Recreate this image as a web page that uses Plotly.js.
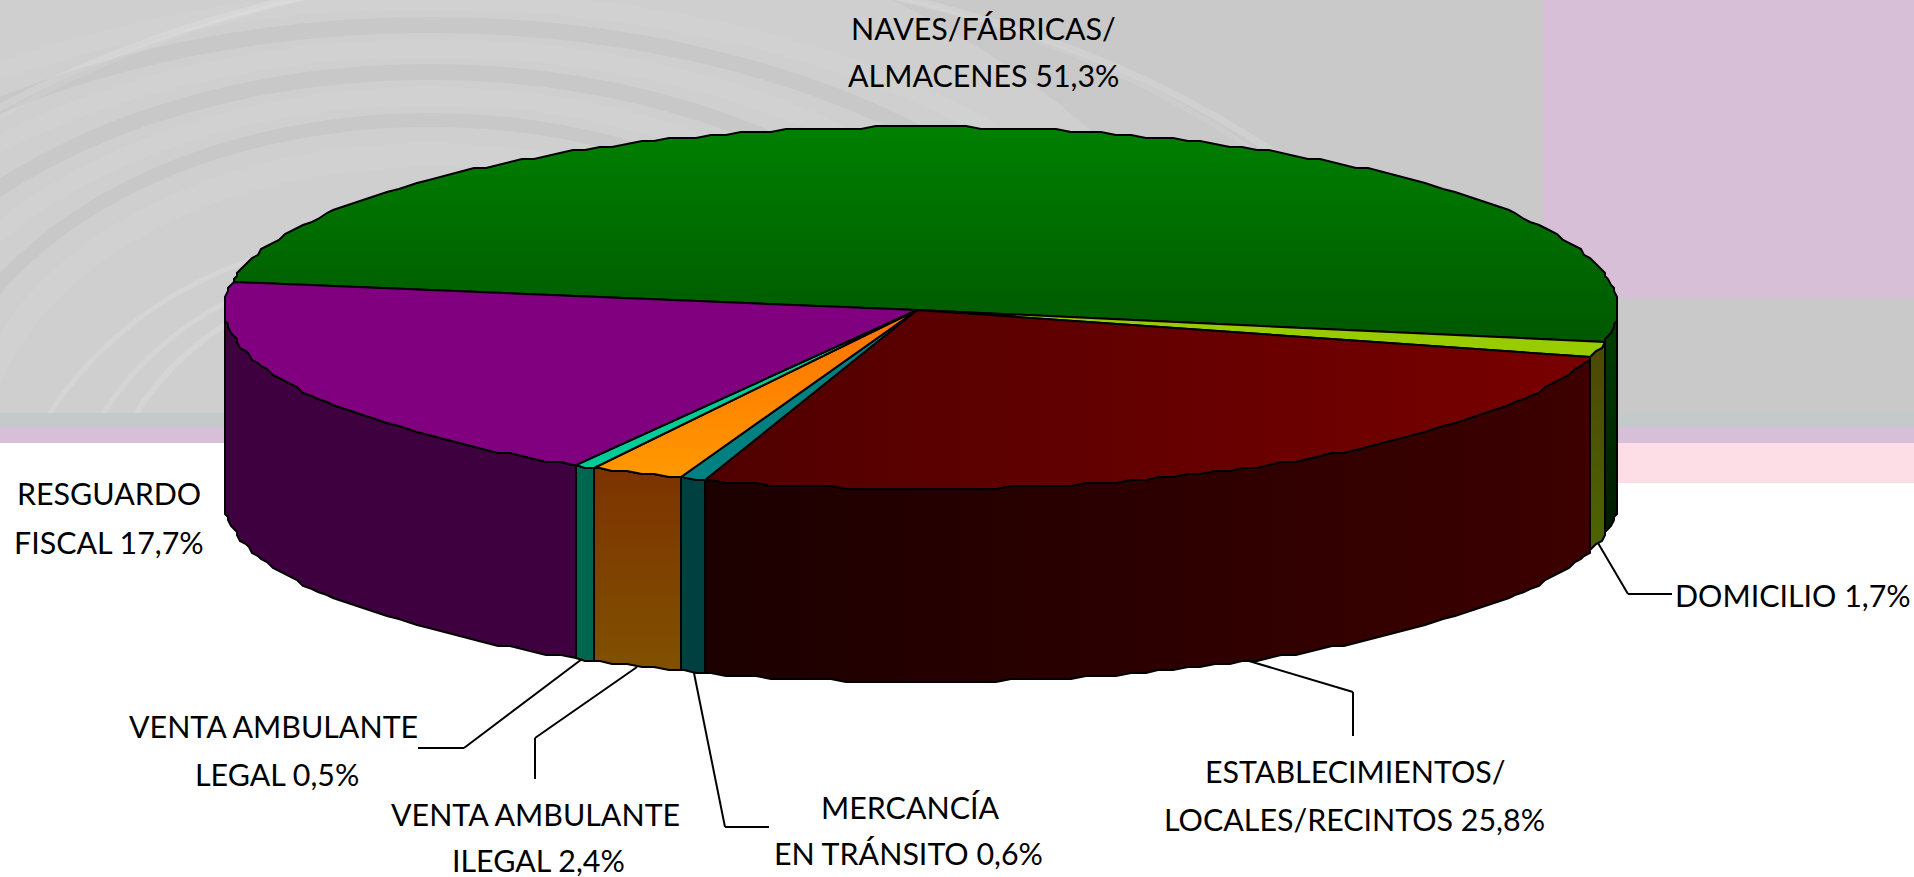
<!DOCTYPE html>
<html><head><meta charset="utf-8">
<script src="https://cdn.plot.ly/plotly-3.0.1.min.js"></script>
<style>html,body{margin:0;padding:0;background:#fff;overflow:hidden}#c{width:1914px;height:877px}</style>
</head><body><div id="c"></div>
<script>
// ---- data ----
const categories = ['NAVES/FÁBRICAS/ALMACENES','DOMICILIO','ESTABLECIMIENTOS/LOCALES/RECINTOS','MERCANCÍA EN TRÁNSITO','VENTA AMBULANTE ILEGAL','VENTA AMBULANTE LEGAL','RESGUARDO FISCAL'];
const shares = [51.3, 1.7, 25.8, 0.6, 2.4, 0.5, 17.7];
const labelFirstLine = ['NAVES/FÁBRICAS/','DOMICILIO 1,7%','ESTABLECIMIENTOS/','MERCANCÍA','VENTA AMBULANTE','VENTA AMBULANTE','RESGUARDO'];
const labelSecondLine = ['ALMACENES 51,3%','','LOCALES/RECINTOS 25,8%','EN TRÁNSITO 0,6%','ILEGAL 2,4%','LEGAL 0,5%','FISCAL 17,7%'];

// ---- styles and view ----
const topFill = [
  {g:{type:'vertical',start:127,stop:340,colorscale:[[0,'#008000'],[1,'#005800']]}},
  {c:'#99cc00'},
  {g:{type:'horizontal',start:705,stop:1588,colorscale:[[0,'#500000'],[1,'#780000']]}},
  {c:'#008080'},
  {g:{type:'vertical',start:310,stop:478,colorscale:[[0,'#ff7000'],[1,'#ff9900']]}},
  {c:'#00cc99'},
  {c:'#800080'}];
const wallFill = [
  {g:{type:'vertical',start:340,stop:540,colorscale:[[0,'#003c00'],[1,'#001800']]}},
  {g:{type:'vertical',start:359,stop:560,colorscale:[[0,'#4c4a05'],[1,'#4c6600']]}},
  {g:{type:'horizontal',start:705,stop:1588,colorscale:[[0,'#1c0000'],[1,'#3c0000']]}},
  {c:'#004040'},
  {g:{type:'vertical',start:470,stop:665,colorscale:[[0,'#7d3300'],[1,'#805000']]}},
  {c:'#006650'},
  {c:'#3e003e'}];
const view = {cx:921, cy:308, rx:696, ry:181, depth:193, apexX:917, apexY:310, start:-81.4, grid:3, step:1.25};
const rad = d => d*Math.PI/180;
// the 3-D view does not keep angles exactly: small periodic shift of the projected angle
const warp = t => t + 4.93 + 14.08*Math.cos(rad(t)) + 1.227*Math.sin(rad(t)) + 6.217*Math.cos(2*rad(t));
const snap = v => Math.round(v/view.grid)*view.grid;
const rimX = t => snap(view.cx + view.rx*Math.sin(rad(t)));
const rimY = (t,d) => snap(view.cy - view.ry*Math.cos(rad(t))) + d;
function rim(a,b){
  const ts=[a]; let n=Math.ceil(a/view.step)*view.step;
  while(n<b){ if(n>a) ts.push(n); n+=view.step; }
  ts.push(b);
  return ts;
}
const traces=[];
function addPoly(xs,ys,f,name){
  const tr={type:'scatter',mode:'lines',x:xs,y:ys,fill:'toself',name:name,hoverinfo:'name',
    line:{color:'#000',width:2,shape:'linear'},showlegend:false};
  if(f.g) tr.fillgradient=f.g; else tr.fillcolor=f.c;
  traces.push(tr);
}
// slice edges from the shares
let cum=0; const edges=[];
shares.forEach(s=>{const a=view.start+cum*3.6; cum+=s; edges.push([warp(a),warp(view.start+cum*3.6)]);});
edges[6][1]=edges[0][0]+360;
// walls
edges.forEach((e,i)=>{
  const a=Math.max(e[0],90), b=Math.min(e[1],270);
  if(b<=a) return;
  const ts=rim(a,b);
  addPoly(ts.map(rimX).concat(ts.slice().reverse().map(rimX),[rimX(ts[0])]),
          ts.map(t=>rimY(t,0)).concat(ts.slice().reverse().map(t=>rimY(t,view.depth)),[rimY(ts[0],0)]),
          wallFill[i],categories[i]);
});
// top faces
edges.forEach((e,i)=>{
  const ts=rim(e[0],e[1]);
  addPoly([view.apexX].concat(ts.map(rimX),[view.apexX]),[view.apexY].concat(ts.map(t=>rimY(t,0)),[view.apexY]),topFill[i],categories[i]);
});

// ---- background ----
const R=(x0,y0,x1,y1,c)=>({type:'rect',layer:'below',x0,y0,x1,y1,fillcolor:c,line:{width:0}});
const E=(cx,cy,rx,ry,c,w)=>({type:'circle',layer:'below',x0:cx-rx,x1:cx+rx,y0:cy-ry,y1:cy+ry,fillcolor:'rgba(0,0,0,0)',line:{color:c,width:w}});
const lite='rgba(255,255,255,0.06)', dark='rgba(0,0,0,0.03)', glint='rgba(255,255,255,0.13)';
const shapes=[
  R(0,0,1914,877,'#ffffff'),
  R(0,0,1543,427,'#c9c9c9'),
  {type:'circle',layer:'below',x0:-600,x1:1270,y0:-120,y1:1100,fillcolor:'rgba(255,255,255,0.11)',line:{width:0}},
  E(430,455,737,430,dark,16),E(430,455,600,383,dark,16),E(430,455,500,335,dark,14),
  E(430,455,800,455,lite,18),E(430,455,668,407,lite,18),E(430,455,550,359,lite,18),
  E(430,455,455,300,lite,24),
  E(400,540,300,265,glint,6),E(400,560,340,300,glint,5),E(400,580,400,345,glint,5),
  E(600,600,950,635,glint,7),E(600,600,925,635,'rgba(255,255,255,0.08)',5),
  R(1543,0,1914,298,'#d7bfd8'),
  R(1543,298,1914,413,'#c9c9c9'),
  R(0,413,1914,427,'#c4c9c9'),
  R(0,427,1914,443,'#d8bfd8'),
  R(0,443,1914,877,'#ffffff'),
  R(1543,443,1914,483,'#fddde6')
];
// leader lines
const leaders=[
  [[1598,543],[1628,594],[1672,594]],
  [[1249,661],[1353,692],[1353,736]],
  [[694,673],[725,827],[769,827]],
  [[637,667],[535,738],[535,779]],
  [[582,659],[464,748],[418,748]]
];
leaders.forEach(p=>{ for(let i=0;i<p.length-1;i++) shapes.push({type:'line',layer:'above',x0:p[i][0],y0:p[i][1],x1:p[i+1][0],y1:p[i+1][1],line:{color:'#000',width:2}}); });

// ---- labels: [centre x first line, y first line, centre x second line, y second line]
const labelPlace=[[983,28,983,75],[1793,595,0,0],[1355,771,1354,819],[910,807,908,853],[535,814,538,860],[273,726,277,774],[109,493,109,542]];
const fontSize=30.4;
const annotations=[];
labelPlace.forEach((p,i)=>{
  const a=(t,x,y)=>annotations.push({text:t,x,y,xref:'x',yref:'y',xanchor:'center',yanchor:'middle',showarrow:false,font:{family:'Lato, sans-serif',size:fontSize,color:'#000'}});
  a(labelFirstLine[i],p[0],p[1]);
  if(labelSecondLine[i]) a(labelSecondLine[i],p[2],p[3]);
});

Plotly.newPlot('c',traces,{
  width:1914,height:877,margin:{l:0,r:0,t:0,b:0},showlegend:false,
  paper_bgcolor:'#fff',plot_bgcolor:'#fff',
  xaxis:{range:[0,1914],visible:false,fixedrange:true},
  yaxis:{range:[877,0],visible:false,fixedrange:true},
  shapes,annotations
},{displayModeBar:false});
</script></body></html>
